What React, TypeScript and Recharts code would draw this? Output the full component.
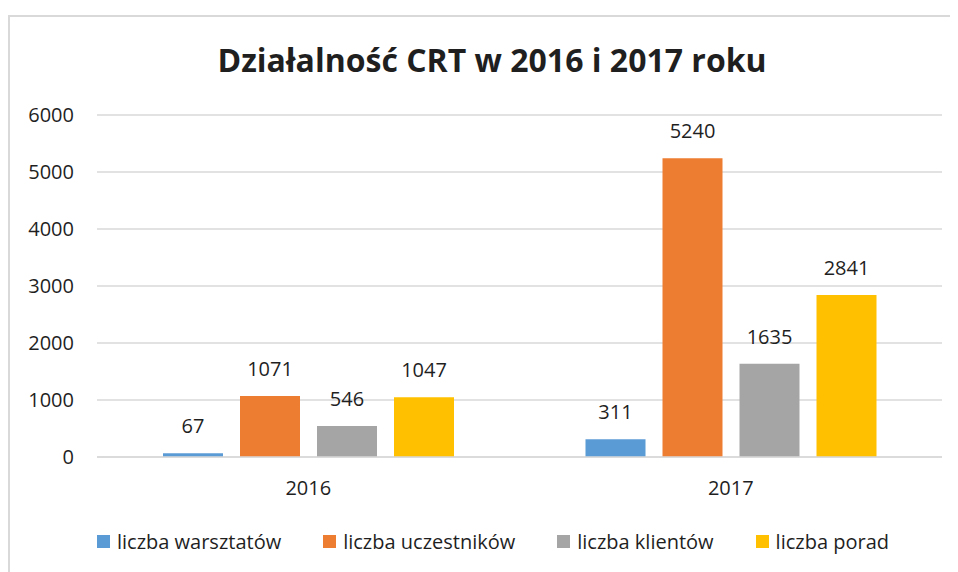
import React from "react";
import { Bar, BarChart, CartesianGrid, LabelList, Legend, XAxis, YAxis } from "recharts";

const years = ["2016", "2017"];
const warsztaty = [67, 311];
const uczestnicy = [1071, 5240];
const klienci = [546, 1635];
const porady = [1047, 2841];
const yTicks = [0, 1000, 2000, 3000, 4000, 5000, 6000];

const series = [
  { key: "warsztaty", name: "liczba warsztatów", color: "#5b9bd5" },
  { key: "uczestnicy", name: "liczba uczestników", color: "#ed7d31" },
  { key: "klienci", name: "liczba klientów", color: "#a5a5a5" },
  { key: "porady", name: "liczba porad", color: "#ffc000" },
];

const data = years.map((year, i) => ({
  year,
  warsztaty: warsztaty[i],
  uczestnicy: uczestnicy[i],
  klienci: klienci[i],
  porady: porady[i],
}));

const FONT = "'Open Sans', 'Noto Sans', sans-serif";
const TEXT = "#1f1f1f";

function LegendRow() {
  return (
    <div
      style={{
        height: 30,
        display: "flex",
        alignItems: "center",
        justifyContent: "center",
        paddingLeft: 34,
        fontFamily: FONT,
        fontSize: 20,
        color: TEXT,
      }}
    >
      {series.map((s) => (
        <div key={s.key} style={{ display: "flex", alignItems: "center", margin: "0 21px" }}>
          <span style={{ width: 13, height: 13, background: s.color, marginRight: 7 }} />
          <span>{s.name}</span>
        </div>
      ))}
    </div>
  );
}

export default function App() {
  return (
    <div
      style={{
        marginTop: 7,
        width: 950,
        height: 557,
        borderTop: "2px solid #d9d9d9",
        borderLeft: "2px solid #d9d9d9",
        boxSizing: "border-box",
        position: "relative",
        background: "#fff",
      }}
    >
      <div
        style={{
          position: "absolute",
          top: 21,
          left: 0,
          width: 948,
          textAlign: "center",
          paddingLeft: 16,
          boxSizing: "border-box",
          fontFamily: FONT,
          fontWeight: 700,
          fontSize: 32,
          color: TEXT,
        }}
      >
        Działalność CRT w 2016 i 2017 roku
      </div>
      <BarChart
        width={948}
        height={555}
        data={data}
        margin={{ top: 98, right: 16, bottom: 16, left: 0 }}
        barSize={60}
        barGap={17}
      >
        <CartesianGrid vertical={false} stroke="#d9d9d9" strokeWidth={1.5} />
        <XAxis
          dataKey="year"
          height={69}
          axisLine={{ stroke: "#d9d9d9", strokeWidth: 1.5 }}
          tickLine={false}
          tickSize={0}
          tickMargin={24}
          tick={{ fill: TEXT, fontSize: 20, fontFamily: FONT }}
        />
        <YAxis
          width={87}
          domain={[0, 6000]}
          ticks={yTicks}
          axisLine={false}
          tickLine={false}
          tickSize={0}
          tickMargin={23}
          tick={{ fill: TEXT, fontSize: 20, fontFamily: FONT }}
        />
        <Legend verticalAlign="bottom" content={() => <LegendRow />} />
        {series.map((s) => (
          <Bar key={s.key} dataKey={s.key} name={s.name} fill={s.color} isAnimationActive={false}>
            <LabelList
              dataKey={s.key}
              position="top"
              offset={20}
              fill={TEXT}
              fontSize={20}
              fontFamily={FONT}
            />
          </Bar>
        ))}
      </BarChart>
    </div>
  );
}
